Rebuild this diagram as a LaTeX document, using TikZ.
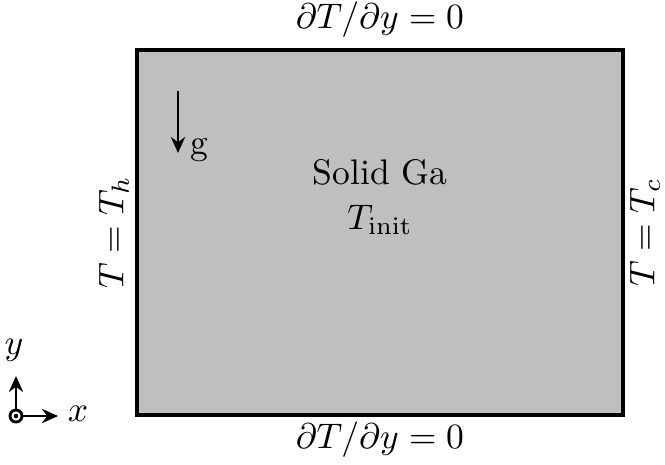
\documentclass[tikz,border=0pt]{standalone}
\usetikzlibrary{arrows.meta}
\begin{document}
\begin{tikzpicture}[x=0.2812pt,y=-0.2812pt,
  wall/.style={draw=black,line width=1.2pt,fill=black!25},
  arr/.style={-{Stealth[length=4.5pt,width=4pt]},line width=0.7pt},
  lbl/.style={inner sep=0pt,font=\normalsize}]
\useasboundingbox (0,0) rectangle (665,464);
\node[wall,minimum width=486*0.2812pt,minimum height=365*0.2812pt,inner sep=0pt,outer sep=0pt] (dom) at (380,232.5) {};
\node[lbl] (top) at (380,20) {$\partial T/\partial y = 0$};
\node[lbl] (bot) at (380,440) {$\partial T/\partial y = 0$};
\node[lbl,rotate=90] (left) at (114,232.5) {$T = T_h$};
\node[lbl,rotate=90] (right) at (645,232.5) {$T = T_c$};
\node[lbl] (solid) at (380,172) {Solid Ga};
\node[lbl] (tinit) at (380,220) {$T_{\mathrm{init}}$};
\coordinate (g0) at (178,91);
\coordinate (g1) at (178,153);
\draw[arr] (g0) -- (g1);
\node[lbl] (g) at (199,150) {g};
\node[circle,draw,line width=0.8pt,minimum size=12*0.2812pt,inner sep=0pt] (o) at (16,416) {};
\fill (o.center) circle (0.65pt);
\coordinate (xe) at (58,416);
\coordinate (ye) at (16,376);
\draw[arr] (o.east) -- (xe);
\draw[arr] (o.north) -- (ye);
\node[lbl] (xl) at (78,414) {$x$};
\node[lbl] (yl) at (14,350) {$y$};
\end{tikzpicture}
\end{document}
